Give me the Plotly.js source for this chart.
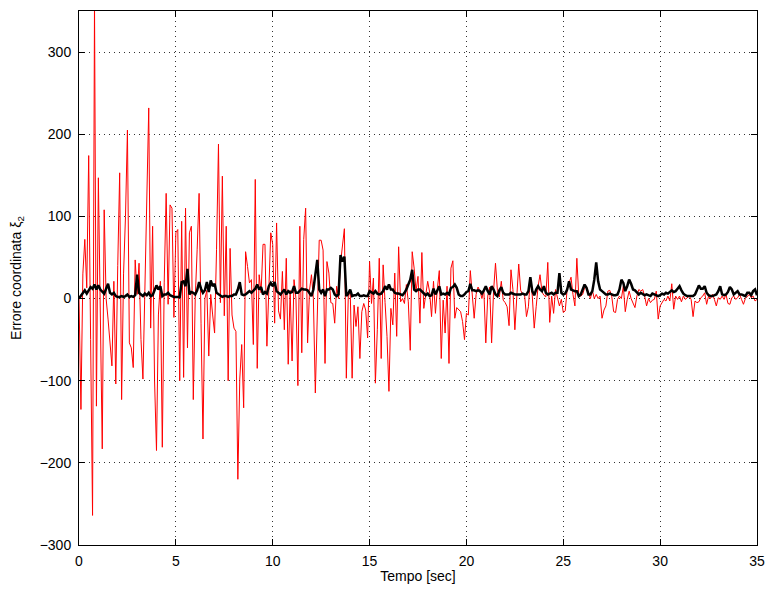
<!DOCTYPE html>
<html>
<head>
<meta charset="utf-8">
<script src="https://cdn.plot.ly/plotly-3.0.1.min.js"></script>
<style>html,body{margin:0;padding:0;background:#fff;}#chart{width:769px;height:589px;}</style>
</head>
<body>
<div id="chart"></div>
<script>
// sample spacing of both signals (seconds)
const t0 = 0;
const dt = 0.1;

// red series: error, 0.0 .. 35.0 s (one row per second)
const errRed = [
  0, -135, 30, 72, 13, 174, -50, -264, 360, -131,
  147, -20, -183, 108, 0, -25, -55, -82, 21, -104,
  40, 153, -123, 30, 100, 205, -54, -60, -84, 47,
  5, 43, -50, -98, 10, 120, 232, -36, 88, -100,
  -185, -20, 21, -181, 20, 128, -7, 114, 110, -23,
  80, 84, -100, 94, -96, 110, -60, 80, 88, -123,
  0, 60, 128, -30, -171, 0, 10, -70, 5, -20,
  -42, 60, 188, -5, 149, -21, 88, -100, 61, -20,
  -36, -40, -220, -98, -56, -133, 57, 39, 19, 23,
  -56, 145, -85, 29, 7, 66, 66, -58, 20, 80,
  66, -30, 92, -15, -25, 33, -38, 49, -80, 10,
  -76, 23, 0, -106, 88, -66, 72, 110, -54, 10,
  29, 0, -115, -20, 71, 71, 59, -79, 45, 31,
  -5, -6, -30, 15, 0, 43, 63, 85, -97, 2,
  10, -97, -8, -34, -10, -73, -16, -6, -14, -48,
  45, -6, 25, -103, -38, 49, -73, 41, -5, -46,
  -113, -12, -32, 31, -46, 63, -4, 0, -6, 17,
  -4, -63, 57, 37, 9, 27, -30, 56, -12, 5,
  21, 8, -22, 21, -18, 12, 34, -73, -2, -42,
  15, -79, 37, 46, -24, -11, -14, -16, -28, -50,
  -18, -20, 34, 5, -24, 5, 14, 9, 0, 10,
  -54, 3, 14, -54, 9, 43, 10, 2, 21, -2,
  -5, -10, -33, 35, 11, -38, 3, 42, 10, 5,
  5, -22, -10, 26, 3, -36, -10, 15, 29, 8,
  4, 2, 44, -29, 3, -18, 11, -1, -9, -1,
  -17, -15, 11, 19, 26, 5, -9, 49, 3, 3,
  5, 13, 14, 7, 0, 10, 0, 5, 0, 3,
  -24, -14, -9, 9, 10, 3, -16, -17, -1, 3,
  0, 15, -16, -1, 9, 0, -5, -11, 3, 11,
  9, 11, 3, -9, 0, -5, -2, -1, 9, -25,
  -9, -5, -1, -3, 3, -3, 18, -13, 3, -1,
  3, -4, 3, -1, 1, 3, -1, -22, -3, -5,
  -4, 1, 3, 7, -7, 3, 0, 5, -1, -9,
  1, -1, 3, -1, 5, -6, -7, 1, 3, -1,
  1, 5, -1, -7, 0, 3, 5, 1, 3, -3,
  -1
];

// black series: error, 0.0 .. 35.0 s
const errBlack = [
  0, 3, 6, 10, 6, 11, 14, 12, 17, 11,
  16, 11, 9, 6, 12, 18, 7, 5, 7, 3,
  2, 2, 3, 2, 3, 5, 2, 3, 2, 4,
  29, 7, 5, 3, 6, 4, 7, 3, 4, 10,
  16, 11, 15, 3, 5, 5, 7, 4, 3, 2,
  2, 2, 2, 20, 21, 15, 36, 5, 8, 7,
  5, 10, 20, 12, 7, 10, 20, 8, 22, 15,
  18, 7, 5, 3, 2, 3, 3, 2, 3, 3,
  5, 5, 11, 20, 5, 4, 5, 7, 9, 7,
  9, 12, 17, 11, 14, 5, 8, 6, 15, 19,
  15, 20, 9, 7, 5, 8, 11, 5, 9, 7,
  8, 15, 7, 7, 9, 12, 11, 11, 10, 6,
  3, 11, 28, 47, 11, 7, 11, 3, 11, 11,
  13, 11, 5, 3, 5, 53, 45, 51, 3, 6,
  11, 3, 4, 4, 6, 3, 3, 4, 3, 3,
  9, 7, 6, 9, 6, 5, 6, 9, 15, 11,
  17, 11, 11, 7, 6, 6, 5, 4, 7, 11,
  17, 23, 35, 11, 9, 11, 11, 9, 7, 4,
  6, 3, 4, 12, 5, 10, 15, 5, 6, 5,
  7, 5, 13, 14, 17, 13, 5, 3, 3, 5,
  8, 9, 18, 10, 10, 9, 10, 9, 6, 10,
  15, 9, 5, 15, 11, 5, 3, 10, 14, 7,
  5, 5, 5, 7, 6, 5, 5, 5, 5, 6,
  5, 5, 9, 26, 9, 4, 11, 15, 11, 9,
  15, 7, 5, 6, 7, 5, 7, 7, 31, 7,
  5, 6, 11, 21, 11, 10, 9, 9, 3, 5,
  11, 17, 13, 5, 5, 9, 23, 44, 21, 11,
  9, 7, 5, 5, 6, 5, 4, 4, 5, 11,
  23, 19, 9, 15, 23, 18, 11, 10, 7, 5,
  7, 5, 4, 5, 4, 3, 6, 5, 4, 3,
  4, 6, 5, 7, 6, 8, 10, 8, 9, 12,
  15, 10, 6, 4, 3, 3, 3, 3, 5, 11,
  16, 12, 12, 15, 7, 4, 3, 3, 4, 5,
  9, 15, 5, 4, 5, 8, 14, 11, 5, 7,
  9, 5, 5, 4, 3, 7, 7, 4, 9, 11,
  4
];

const xLabel = 'Tempo [sec]';
const yLabel = 'Errore coordinata ξ<sub>2</sub>';

const font = {family: '"Liberation Sans", Arial, Helvetica, sans-serif', size: 14, color: '#000'};

const traces = [
  {type: 'scatter', mode: 'lines', x0: t0, dx: dt, y: errRed,
   line: {color: '#ff0000', width: 1}, hoverinfo: 'skip'},
  {type: 'scatter', mode: 'lines', x0: t0, dx: dt, y: errBlack,
   line: {color: '#000000', width: 2.5}, hoverinfo: 'skip'}
];

const axisCommon = {
  showline: true, linecolor: '#000', linewidth: 1, mirror: 'ticks',
  ticks: 'inside', ticklen: 6, tickcolor: '#000', tickwidth: 1,
  showgrid: true, gridcolor: '#333', gridwidth: 1, griddash: '1px,4px',
  zeroline: false, tickfont: font, automargin: false
};

const layout = {
  width: 769, height: 589,
  margin: {l: 79, r: 12, t: 11, b: 44},
  paper_bgcolor: '#fff', plot_bgcolor: '#fff',
  showlegend: false,
  font: font,
  xaxis: Object.assign({}, axisCommon, {
    range: [0, 35], dtick: 5, tick0: 0, ticklabelstandoff: 3,
    title: {text: xLabel, font: font, standoff: 3}
  }),
  yaxis: Object.assign({}, axisCommon, {
    range: [-300, 350], dtick: 100, tick0: 0, ticklabelstandoff: 4,
    title: {text: yLabel, font: font, standoff: 14}
  })
};

Plotly.newPlot('chart', traces, layout, {staticPlot: true, displayModeBar: false});
</script>
</body>
</html>
